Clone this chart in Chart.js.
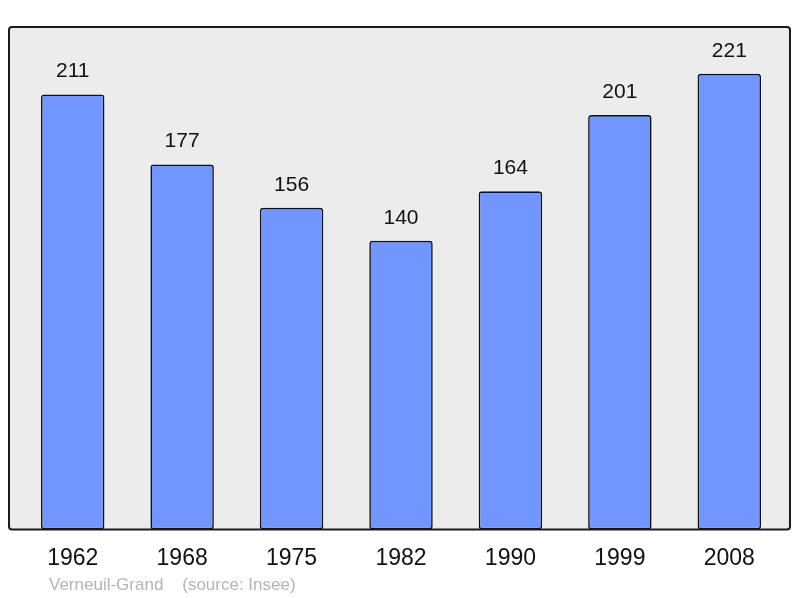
<!DOCTYPE html>
<html>
<head>
<meta charset="utf-8">
<script src="https://cdn.jsdelivr.net/npm/chart.js@4/dist/chart.umd.min.js"></script>
<style>
  html, body { margin: 0; padding: 0; background: #fff; }
  #wrap { position: relative; width: 800px; height: 598px; }
  #source {
    position: absolute; left: 49px; top: 575px;
    font: 17px "Liberation Sans", Arial, sans-serif; color: #b4b4b4;
    white-space: pre;
  }
</style>
</head>
<body>
<div id="wrap">
  <canvas id="popChart" width="800" height="598"></canvas>
  <div id="source">Verneuil-Grand    (source: Insee)</div>
</div>
<script>
const years = ["1962", "1968", "1975", "1982", "1990", "1999", "2008"];
const population = [211, 177, 156, 140, 164, 201, 221];

const barColor = "#7196ff";
const panelColor = "#ececec";

// grey framed panel behind the bars
const panelPlugin = {
  id: "panel",
  beforeDraw(chart) {
    const { ctx, chartArea } = chart;
    const x0 = chartArea.left - 9, x1 = chartArea.right + 6;
    const y0 = chartArea.top, y1 = chartArea.bottom;
    ctx.save();
    ctx.beginPath();
    ctx.roundRect(x0, y0, x1 - x0, y1 - y0, 3);
    ctx.fillStyle = panelColor;
    ctx.fill();
    ctx.restore();
  },
  afterDatasetsDraw(chart) {
    const { ctx, chartArea } = chart;
    const x0 = chartArea.left - 9, x1 = chartArea.right + 6;
    const y0 = chartArea.top, y1 = chartArea.bottom;
    ctx.save();
    ctx.beginPath();
    ctx.roundRect(x0, y0, x1 - x0, y1 - y0, 3);
    ctx.lineWidth = 2;
    ctx.strokeStyle = "#1a1a1a";
    ctx.stroke();
    ctx.restore();
  },
};

// value above each bar
const valueLabels = {
  id: "valueLabels",
  afterDatasetsDraw(chart) {
    const { ctx } = chart;
    const meta = chart.getDatasetMeta(0);
    ctx.save();
    ctx.font = '21px "Liberation Sans", Arial, sans-serif';
    ctx.fillStyle = "#111";
    ctx.textAlign = "center";
    ctx.textBaseline = "middle";
    meta.data.forEach((bar, i) => {
      ctx.fillText(String(population[i]), bar.x, bar.y - 23);
    });
    ctx.restore();
  },
};

new Chart(document.getElementById("popChart"), {
  type: "bar",
  data: {
    labels: years,
    datasets: [
      {
        data: population,
        backgroundColor: barColor,
        borderColor: "#111",
        borderWidth: 1.6,
        borderRadius: 3,
        borderSkipped: false,
        barPercentage: 0.58,
        categoryPercentage: 1,
      },
    ],
  },
  options: {
    responsive: false,
    animation: false,
    layout: { padding: { left: 18, right: 16, top: 27, bottom: 19 } },
    plugins: {
      legend: { display: false },
      tooltip: { enabled: false },
    },
    scales: {
      x: {
        grid: { display: false },
        border: { display: false },
        ticks: {
          padding: 7,
          color: "#111",
          font: { family: "Liberation Sans", size: 23 },
        },
      },
      y: {
        display: false,
        min: 0,
        max: 243.7,
      },
    },
  },
  plugins: [panelPlugin, valueLabels],
});
</script>
</body>
</html>
